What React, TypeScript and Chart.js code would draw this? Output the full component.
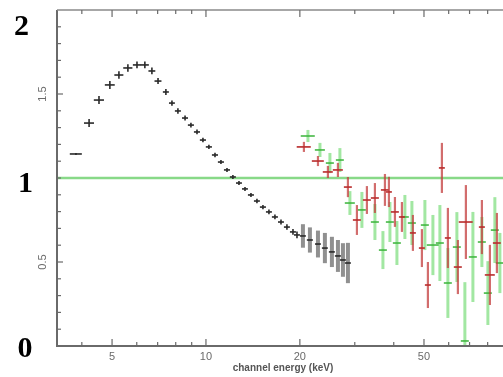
import React, { useEffect, useRef } from "react";
import { Chart, registerables } from "chart.js";

Chart.register(...registerables);

// ---------- axis ranges ----------
const X_MIN = 3.33;
const X_MAX = 89.6;
const Y_MIN = 0;
const Y_MAX = 2;
const unityLevel = 1;

// ---------- tick labels ----------
const xMajorTicks = [5, 10, 20, 50];
const xMinorTicks = [4, 6, 7, 8, 9, 30, 40, 60, 70, 80, 90];
const yLabelTicks = [0.5, 1.5];
const yLabelText = ["0.5", "1.5"];
const yMinorTicks = [0.1, 0.2, 0.3, 0.4, 0.6, 0.7, 0.8, 0.9, 1.0, 1.1, 1.2, 1.3, 1.4, 1.6, 1.7, 1.8, 1.9];
const xAxisTitle = "channel energy (keV)";
const panelLabels = ["2", "1", "0"];

// ---------- black series (low-energy instrument) ----------
const blackEnergy = [3.83, 4.22, 4.54, 4.92, 5.26, 5.62, 6.01, 6.37, 6.71, 7.02, 7.44, 7.78, 8.13, 8.57, 8.95, 9.36, 9.78, 10.22, 10.69, 11.17, 11.68, 12.2, 12.76, 13.34, 13.94, 14.57, 15.23, 15.92, 16.64, 17.4, 18.18, 19.01, 19.58];
const blackRatio = [1.143, 1.327, 1.464, 1.554, 1.613, 1.655, 1.673, 1.673, 1.637, 1.577, 1.512, 1.446, 1.399, 1.357, 1.315, 1.274, 1.226, 1.185, 1.137, 1.095, 1.048, 1.006, 0.97, 0.935, 0.899, 0.863, 0.827, 0.798, 0.768, 0.738, 0.708, 0.679, 0.661];
const blackEnergyErr = [0.17, 0.156, 0.17, 0.18, 0.175, 0.19, 0.18, 0.19, 0.17, 0.18, 0.165, 0.17, 0.18, 0.19, 0.2, 0.21, 0.22, 0.23, 0.24, 0.25, 0.26, 0.27, 0.28, 0.29, 0.31, 0.32, 0.34, 0.35, 0.37, 0.38, 0.4, 0.42, 0.43];
const blackRatioErr = [0.006, 0.024, 0.024, 0.024, 0.022, 0.022, 0.02, 0.02, 0.02, 0.018, 0.018, 0.016, 0.016, 0.015, 0.014, 0.014, 0.013, 0.013, 0.013, 0.012, 0.012, 0.012, 0.012, 0.012, 0.012, 0.013, 0.013, 0.014, 0.014, 0.015, 0.016, 0.017, 0.02];

// ---------- black series tail (large errors) ----------
const tailEnergy = [20.46, 21.54, 22.86, 24.06, 25.34, 26.49, 27.49, 28.52];
const tailRatio = [0.655, 0.631, 0.607, 0.583, 0.56, 0.536, 0.512, 0.494];
const tailEnergyErr = [0.45, 0.48, 0.5, 0.53, 0.56, 0.59, 0.61, 0.63];
const tailRatioErr = [0.07, 0.075, 0.08, 0.09, 0.09, 0.095, 0.1, 0.12];

// ---------- red series ----------
const redEnergy = [20.61, 22.86, 24.6, 26.49, 28.52, 30.48, 32.81, 34.81, 37.48, 38.6, 40.35, 42.49, 46.08, 49.24, 51.47, 57.07, 59.65, 64.22, 68.13, 76.67, 81.34, 85.65];
const redRatio = [1.185, 1.101, 1.036, 1.048, 0.946, 0.75, 0.869, 0.881, 0.929, 0.917, 0.798, 0.768, 0.673, 0.583, 0.363, 1.06, 0.643, 0.47, 0.738, 0.708, 0.423, 0.613];
const redEnergyErr = [1.07, 1.01, 0.91, 0.98, 0.84, 0.9, 0.97, 1.03, 1.1, 0.85, 1.19, 0.94, 1.02, 1.09, 1.14, 1.26, 1.32, 1.9, 3.5, 1.7, 3.0, 2.5];
const redRatioErr = [0.03, 0.03, 0.036, 0.042, 0.06, 0.089, 0.083, 0.089, 0.095, 0.09, 0.089, 0.089, 0.107, 0.113, 0.137, 0.149, 0.179, 0.161, 0.22, 0.161, 0.179, 0.179];

// ---------- green series ----------
const greenEnergy = [21.23, 23.2, 24.97, 26.88, 28.94, 31.62, 34.81, 36.93, 38.89, 40.95, 43.43, 45.74, 50.34, 53.41, 56.23, 59.65, 63.75, 67.62, 71.75, 76.67, 80.14, 84.38, 87.57];
const greenRatio = [1.25, 1.167, 1.089, 1.107, 0.851, 0.81, 0.738, 0.571, 0.738, 0.613, 0.768, 0.732, 0.72, 0.601, 0.613, 0.375, 0.589, 0.03, 0.53, 0.619, 0.315, 0.69, 0.494];
const greenEnergyErr = [1.1, 0.86, 0.74, 0.79, 1.07, 0.93, 1.03, 1.09, 1.15, 1.21, 1.28, 1.35, 1.49, 2.37, 1.66, 1.76, 1.88, 2.0, 2.12, 2.26, 2.36, 2.49, 2.58];
const greenRatioErr = [0.036, 0.042, 0.06, 0.071, 0.071, 0.107, 0.107, 0.113, 0.119, 0.131, 0.131, 0.131, 0.149, 0.179, 0.226, 0.208, 0.208, 0.35, 0.268, 0.149, 0.19, 0.196, 0.179];

function toPoints(xs: number[], ys: number[]) {
  return xs.map((x, i) => ({ x, y: ys[i] }));
}

const errorBarPlugin = {
  id: "errorBars",
  afterDatasetsDraw(chart: any) {
    const { ctx, chartArea: a, scales } = chart;
    const xs = scales.x;
    const ys = scales.y;
    ctx.save();
    ctx.beginPath();
    ctx.rect(a.left, a.top, a.right - a.left, a.bottom - a.top);
    ctx.clip();
    chart.data.datasets.forEach((ds: any) => {
      if (!ds.errX) return;
      ds.data.forEach((pt: any, i: number) => {
        const px = xs.getPixelForValue(pt.x);
        const py = ys.getPixelForValue(pt.y);
        const xl = xs.getPixelForValue(pt.x - ds.errX[i]);
        const xr = xs.getPixelForValue(pt.x + ds.errX[i]);
        const yt = ys.getPixelForValue(pt.y + ds.errY[i]);
        const yb = ys.getPixelForValue(pt.y - ds.errY[i]);
        ctx.lineCap = "butt";
        ctx.strokeStyle = ds.vColor;
        ctx.lineWidth = ds.vWidth;
        ctx.beginPath();
        ctx.moveTo(px, yt);
        ctx.lineTo(px, yb);
        ctx.stroke();
        ctx.strokeStyle = ds.hColor;
        ctx.lineWidth = ds.hWidth;
        ctx.beginPath();
        ctx.moveTo(xl, py);
        ctx.lineTo(xr, py);
        ctx.stroke();
      });
    });
    ctx.restore();
  },
};

const framePlugin = {
  id: "frame",
  afterDraw(chart: any) {
    const { ctx, chartArea: a, scales } = chart;
    const xs = scales.x;
    const ys = scales.y;
    ctx.save();
    // frame
    ctx.strokeStyle = "#6a6a6a";
    ctx.lineWidth = 2;
    ctx.beginPath();
    ctx.moveTo(a.left, a.top);
    ctx.lineTo(a.left, a.bottom);
    ctx.lineTo(a.right, a.bottom);
    ctx.stroke();
    ctx.strokeStyle = "#8a8a8a";
    ctx.lineWidth = 1.5;
    ctx.beginPath();
    ctx.moveTo(a.left, a.top);
    ctx.lineTo(a.right, a.top);
    ctx.stroke();

    // x ticks (inward, bottom and top)
    ctx.strokeStyle = "#6a6a6a";
    ctx.lineWidth = 1.2;
    const drawXTick = (v: number, len: number) => {
      const p = xs.getPixelForValue(v);
      if (p < a.left || p > a.right) return;
      ctx.beginPath();
      ctx.moveTo(p, a.bottom);
      ctx.lineTo(p, a.bottom - len);
      ctx.moveTo(p, a.top);
      ctx.lineTo(p, a.top + len);
      ctx.stroke();
    };
    xMajorTicks.forEach((v) => drawXTick(v, 7));
    xMinorTicks.forEach((v) => drawXTick(v, 4));

    // y ticks (inward, left)
    const drawYTick = (v: number, len: number) => {
      const p = ys.getPixelForValue(v);
      ctx.beginPath();
      ctx.moveTo(a.left, p);
      ctx.lineTo(a.left + len, p);
      ctx.stroke();
    };
    yLabelTicks.forEach((v) => drawYTick(v, 6));
    yMinorTicks.forEach((v) => drawYTick(v, 4));

    // x tick labels
    ctx.fillStyle = "#6a6a6a";
    ctx.font = "11px 'Liberation Sans', Arial, sans-serif";
    ctx.textAlign = "center";
    ctx.textBaseline = "middle";
    xMajorTicks.forEach((v) => {
      const p = xs.getPixelForValue(v);
      ctx.fillText(String(v), p, a.bottom + 11);
    });

    // y tick labels (rotated)
    yLabelTicks.forEach((v, i) => {
      const p = ys.getPixelForValue(v);
      ctx.save();
      ctx.translate(a.left - 14, p);
      ctx.rotate(-Math.PI / 2);
      ctx.fillText(yLabelText[i], 0, 0);
      ctx.restore();
    });

    // axis title
    ctx.fillStyle = "#555";
    ctx.font = "bold 10px 'Liberation Sans', Arial, sans-serif";
    ctx.fillText(xAxisTitle, 283, a.bottom + 22);

    // big panel labels
    ctx.fillStyle = "#000";
    ctx.font = "bold 30px 'Liberation Serif', 'DejaVu Serif', serif";
    ctx.textBaseline = "alphabetic";
    const labelY = [2, 1, 0];
    const labelBase = [35, 192, 357];
    const labelX = [21.5, 25.5, 25];
    panelLabels.forEach((t, i) => {
      void labelY[i];
      ctx.fillText(t, labelX[i], labelBase[i]);
    });
    ctx.restore();
  },
};

export default function App() {
  const canvasRef = useRef<HTMLCanvasElement | null>(null);

  useEffect(() => {
    const canvas = canvasRef.current;
    if (!canvas) return;
    const chart = new Chart(canvas, {
      type: "scatter",
      data: {
        datasets: [
          {
            type: "line",
            label: "unity",
            data: [
              { x: X_MIN, y: unityLevel },
              { x: X_MAX, y: unityLevel },
            ],
            borderColor: "rgba(130,215,130,0.95)",
            borderWidth: 2.5,
            pointRadius: 0,
            fill: false,
          } as any,
          {
            label: "black",
            data: toPoints(blackEnergy, blackRatio),
            errX: blackEnergyErr,
            errY: blackRatioErr,
            vColor: "#2a2a2a",
            vWidth: 1.6,
            hColor: "#2a2a2a",
            hWidth: 1.6,
            pointRadius: 0,
          } as any,
          {
            label: "blackTail",
            data: toPoints(tailEnergy, tailRatio),
            errX: tailEnergyErr,
            errY: tailRatioErr,
            vColor: "rgba(70,70,70,0.6)",
            vWidth: 4,
            hColor: "#222",
            hWidth: 1.5,
            pointRadius: 0,
          } as any,
          {
            label: "green",
            data: toPoints(greenEnergy, greenRatio),
            errX: greenEnergyErr,
            errY: greenRatioErr,
            vColor: "rgba(100,215,100,0.6)",
            vWidth: 3,
            hColor: "rgba(60,180,60,0.85)",
            hWidth: 1.8,
            pointRadius: 0,
          } as any,
          {
            label: "red",
            data: toPoints(redEnergy, redRatio),
            errX: redEnergyErr,
            errY: redRatioErr,
            vColor: "rgba(195,60,60,0.75)",
            vWidth: 2.2,
            hColor: "rgba(185,45,45,0.9)",
            hWidth: 1.8,
            pointRadius: 0,
          } as any,
        ],
      },
      options: {
        animation: false,
        responsive: false,
        devicePixelRatio: 1,
        layout: { padding: { left: 57, right: 0, top: 10, bottom: 31 } },
        plugins: { legend: { display: false }, tooltip: { enabled: false } },
        scales: {
          x: { type: "logarithmic", min: X_MIN, max: X_MAX, display: false },
          y: { type: "linear", min: Y_MIN, max: Y_MAX, display: false },
        },
      },
      plugins: [errorBarPlugin, framePlugin],
    });
    return () => chart.destroy();
  }, []);

  return (
    <div style={{ position: "fixed", left: 0, top: 0, width: 503, height: 377, background: "#fff" }}>
      <canvas ref={canvasRef} width={503} height={377} style={{ display: "block" }} />
    </div>
  );
}
